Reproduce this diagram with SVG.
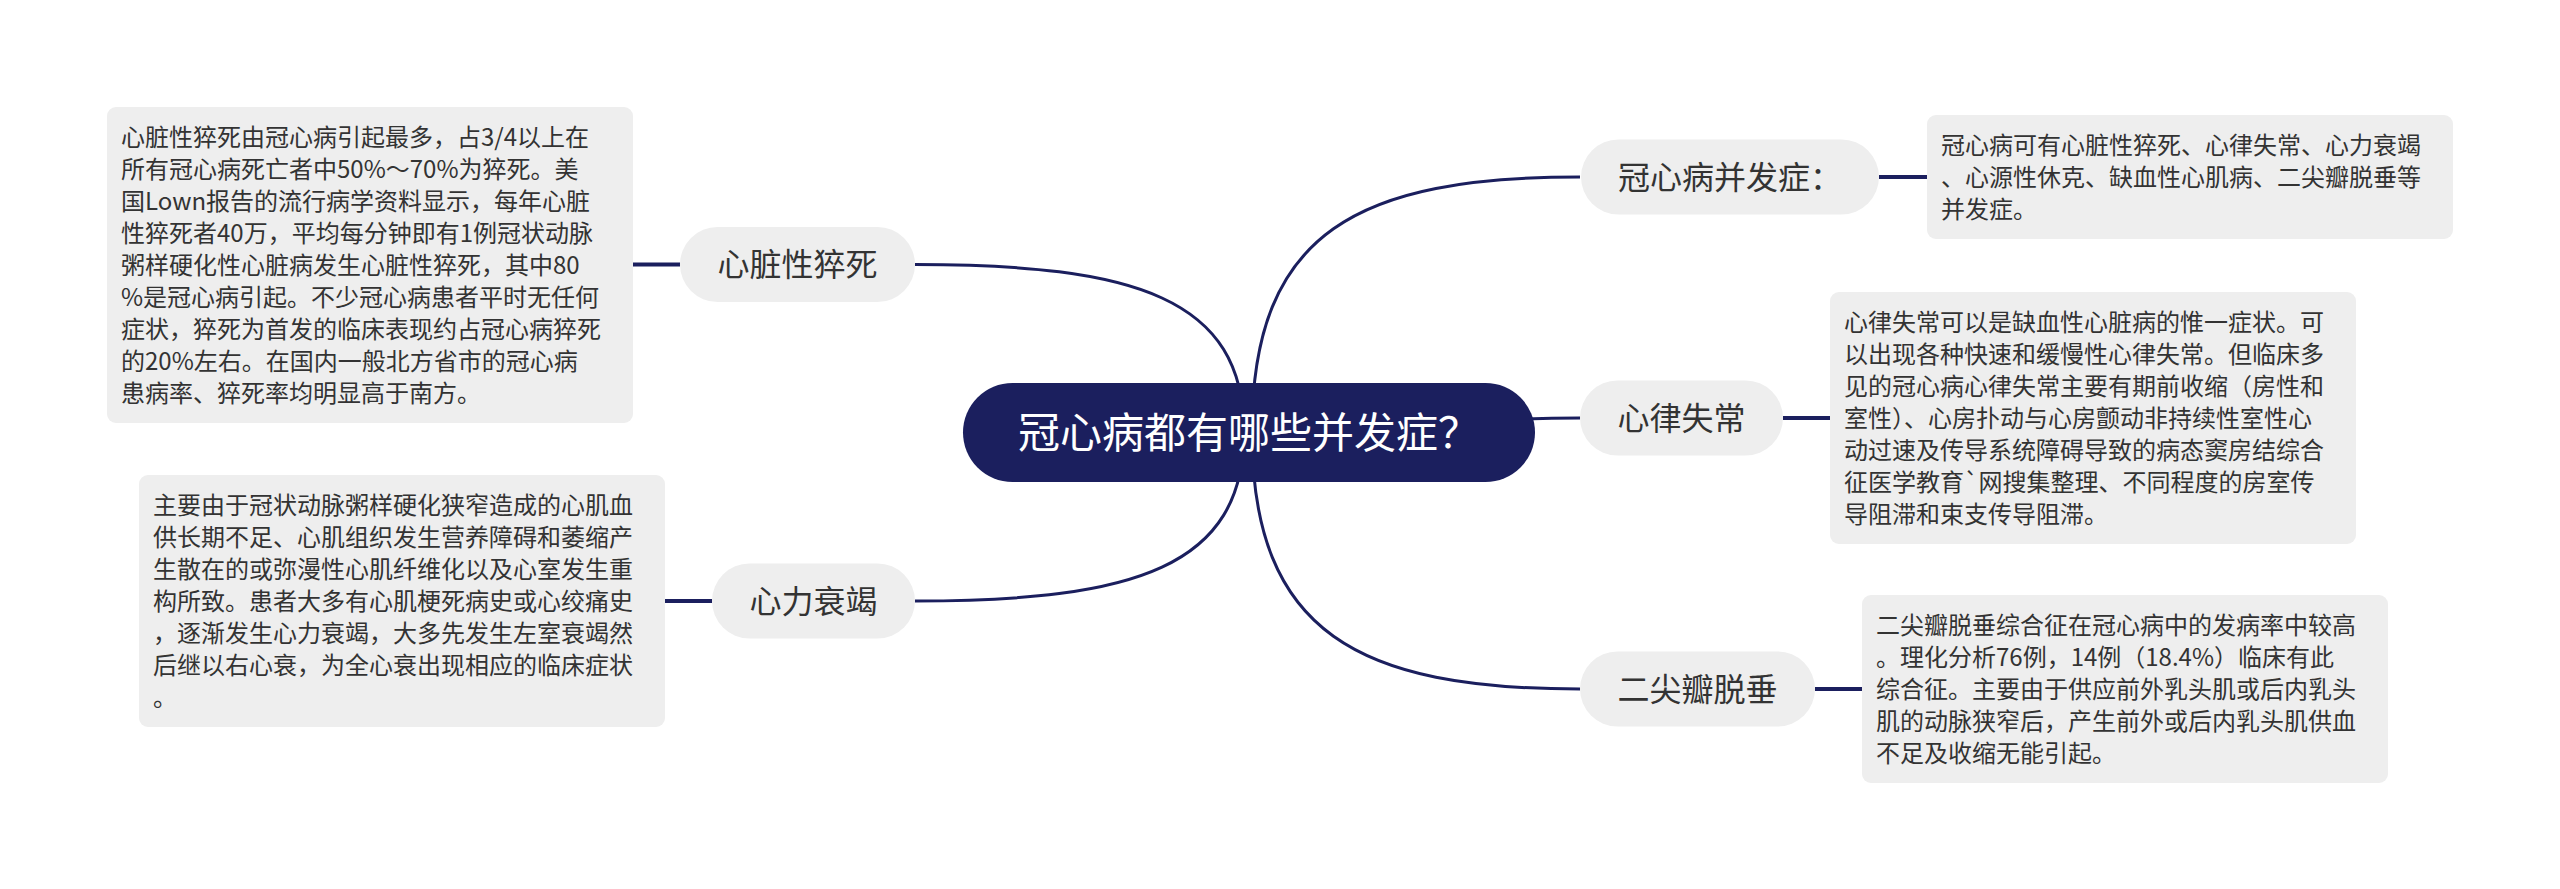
<svg xmlns="http://www.w3.org/2000/svg" width="2560" height="889" viewBox="0 0 2560 889">
<style>
.bg{fill:#ffffff}
.curve{fill:none;stroke:#1b1f5e;stroke-width:3}
.stub{fill:none;stroke:#1b1f5e;stroke-width:4}
.node rect{fill:#eeeeee}
.node text{font-family:"Noto Sans CJK SC","Noto Sans",sans-serif;font-size:32px;fill:#333333}
.box rect{fill:#eeeeee}
.box text{font-family:"Noto Sans CJK SC","Noto Sans",sans-serif;font-size:24px;fill:#333333}
.root rect{fill:#1b1f5e}
.root text{font-family:"Noto Sans CJK SC","Noto Sans",sans-serif;font-size:42px;fill:#ffffff}
</style>
<rect class="bg" x="0" y="0" width="2560" height="889"/>
<g id="connectors">
<path class="curve" d="M1244 432 C1244 298 1135 264.5 915 264.5"/>
<path class="curve" d="M1244 432 C1244 567 1135 601 915 601"/>
<path class="curve" d="M1252 432 C1252 230 1360 177 1580 177"/>
<path class="curve" d="M1252 432 C1400 432 1450 418 1580 418"/>
<path class="curve" d="M1252 432 C1252 634 1360 689 1580 689"/>
<path class="stub" d="M633 264.5 H680"/>
<path class="stub" d="M665 601 H712"/>
<path class="stub" d="M1879 177 H1927"/>
<path class="stub" d="M1783 418 H1830"/>
<path class="stub" d="M1815 689 H1862"/>
</g>
<g id="root" class="root">
<rect x="963" y="383" width="572" height="99" rx="49.5"/>
<text x="1249" y="448" text-anchor="middle">冠心病都有哪些并发症？</text>
</g>
<g id="n-sudden" class="node">
<rect x="680" y="227" width="235" height="75" rx="37.5"/>
<text x="797.5" y="276" text-anchor="middle">心脏性猝死</text>
</g>
<g id="n-failure" class="node">
<rect x="712" y="563.5" width="203" height="75" rx="37.5"/>
<text x="813.5" y="613" text-anchor="middle">心力衰竭</text>
</g>
<g id="n-complication" class="node">
<rect x="1581" y="139.5" width="298" height="75" rx="37.5"/>
<text x="1618" y="189">冠心病并发症：</text>
</g>
<g id="n-arrhythmia" class="node">
<rect x="1580" y="380.5" width="203" height="75" rx="37.5"/>
<text x="1681.5" y="430" text-anchor="middle">心律失常</text>
</g>
<g id="n-mitral" class="node">
<rect x="1580" y="651.5" width="235" height="75" rx="37.5"/>
<text x="1697.5" y="701" text-anchor="middle">二尖瓣脱垂</text>
</g>
<g id="d-sudden" class="box">
<rect x="107" y="107" width="526" height="316" rx="9"/>
<text x="121" y="146">
<tspan x="121" y="146">心脏性猝死由冠心病引起最多，占3/4以上在</tspan>
<tspan x="121" y="178">所有冠心病死亡者中50%～70%为猝死。美</tspan>
<tspan x="121" y="210">国Lown报告的流行病学资料显示，每年心脏</tspan>
<tspan x="121" y="242">性猝死者40万，平均每分钟即有1例冠状动脉</tspan>
<tspan x="121" y="274">粥样硬化性心脏病发生心脏性猝死，其中80</tspan>
<tspan x="121" y="306">%是冠心病引起。不少冠心病患者平时无任何</tspan>
<tspan x="121" y="338">症状，猝死为首发的临床表现约占冠心病猝死</tspan>
<tspan x="121" y="370">的20%左右。在国内一般北方省市的冠心病</tspan>
<tspan x="121" y="402">患病率、猝死率均明显高于南方。</tspan>
</text>
</g>
<g id="d-failure" class="box">
<rect x="139" y="475" width="526" height="252" rx="9"/>
<text x="153" y="514">
<tspan x="153" y="514">主要由于冠状动脉粥样硬化狭窄造成的心肌血</tspan>
<tspan x="153" y="546">供长期不足、心肌组织发生营养障碍和萎缩产</tspan>
<tspan x="153" y="578">生散在的或弥漫性心肌纤维化以及心室发生重</tspan>
<tspan x="153" y="610">构所致。患者大多有心肌梗死病史或心绞痛史</tspan>
<tspan x="153" y="642">，逐渐发生心力衰竭，大多先发生左室衰竭然</tspan>
<tspan x="153" y="674">后继以右心衰，为全心衰出现相应的临床症状</tspan>
<tspan x="153" y="706">。</tspan>
</text>
</g>
<g id="d-complication" class="box">
<rect x="1927" y="115" width="526" height="124" rx="9"/>
<text x="1941" y="154">
<tspan x="1941" y="154">冠心病可有心脏性猝死、心律失常、心力衰竭</tspan>
<tspan x="1941" y="186">、心源性休克、缺血性心肌病、二尖瓣脱垂等</tspan>
<tspan x="1941" y="218">并发症。</tspan>
</text>
</g>
<g id="d-arrhythmia" class="box">
<rect x="1830" y="292" width="526" height="252" rx="9"/>
<text x="1844" y="331">
<tspan x="1844" y="331">心律失常可以是缺血性心脏病的惟一症状。可</tspan>
<tspan x="1844" y="363">以出现各种快速和缓慢性心律失常。但临床多</tspan>
<tspan x="1844" y="395">见的冠心病心律失常主要有期前收缩（房性和</tspan>
<tspan x="1844" y="427">室性）、心房扑动与心房颤动非持续性室性心</tspan>
<tspan x="1844" y="459">动过速及传导系统障碍导致的病态窦房结综合</tspan>
<tspan x="1844" y="491">征医学教育`网搜集整理、不同程度的房室传</tspan>
<tspan x="1844" y="523">导阻滞和束支传导阻滞。</tspan>
</text>
</g>
<g id="d-mitral" class="box">
<rect x="1862" y="595" width="526" height="188" rx="9"/>
<text x="1876" y="634">
<tspan x="1876" y="634">二尖瓣脱垂综合征在冠心病中的发病率中较高</tspan>
<tspan x="1876" y="666">。理化分析76例，14例（18.4%）临床有此</tspan>
<tspan x="1876" y="698">综合征。主要由于供应前外乳头肌或后内乳头</tspan>
<tspan x="1876" y="730">肌的动脉狭窄后，产生前外或后内乳头肌供血</tspan>
<tspan x="1876" y="762">不足及收缩无能引起。</tspan>
</text>
</g>
</svg>
